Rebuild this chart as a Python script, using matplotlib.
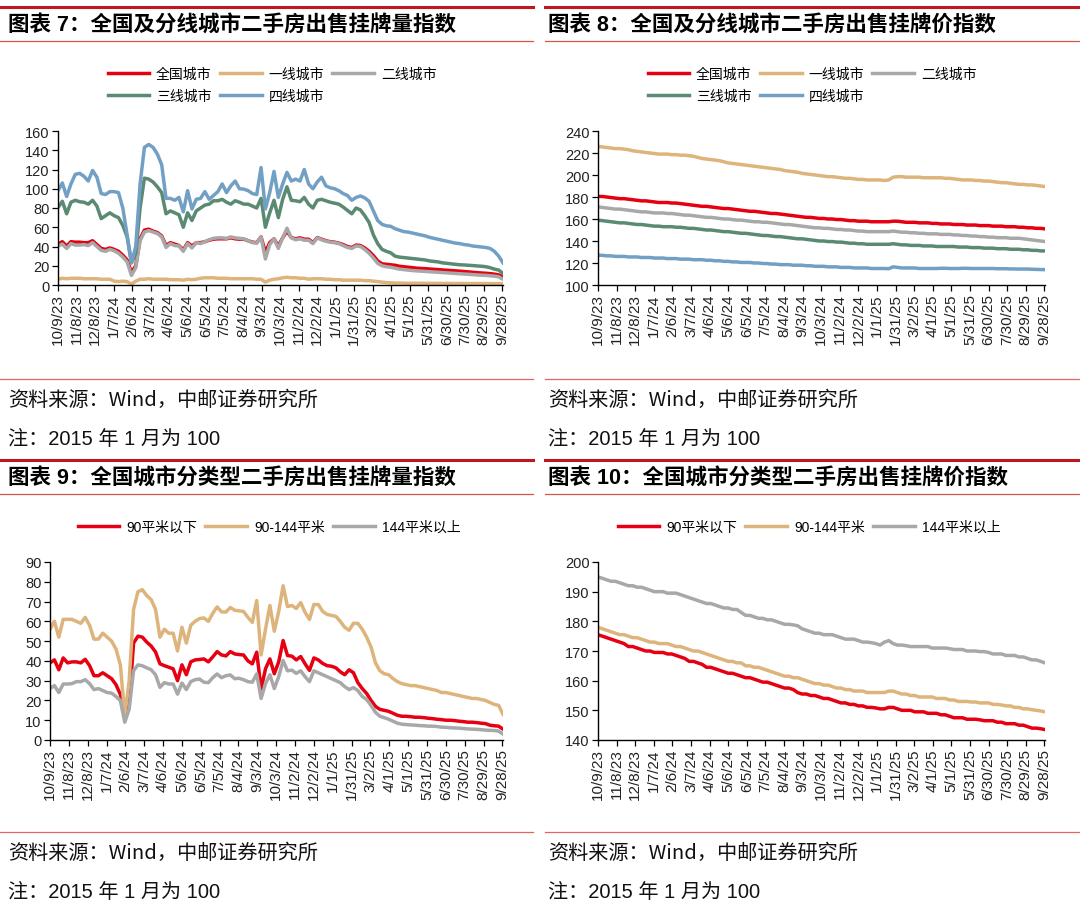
import matplotlib
matplotlib.use('Agg')
import matplotlib.pyplot as plt
import matplotlib.dates as mdates
from matplotlib.lines import Line2D
import pandas as pd

plt.rcParams['font.family'] = ['Liberation Sans', 'Noto Sans CJK SC', 'DejaVu Sans']

dates = pd.date_range('2023-10-09', periods=104, freq='7D')
tick_dates = pd.date_range('2023-10-09', '2025-09-28', freq='30D')
tick_labels = ['{}/{}/{}'.format(d.month, d.day, d.year % 100) for d in tick_dates]

# 图表7 挂牌量指数
vol_national = [42.5, 45, 40.5, 45, 44.5, 44.5, 44, 44, 46, 42,
                38, 37, 38.5, 37, 35, 31, 26, 13, 20, 48,
                57, 58, 56, 54.5, 51, 41, 44, 42.5, 41, 36.5,
                44, 40.6, 44, 44, 45, 46.5, 47.6, 48, 48, 48,
                49, 48, 47.6, 47.6, 46, 44.5, 44, 50, 34, 44,
                48, 40.6, 49, 56, 49.3, 48, 49, 47.6, 47.6, 44,
                49.3, 47.6, 46, 45, 44.5, 43.5, 42, 40, 39, 41.5,
                41, 38.5, 35, 30.5, 25, 22, 21.5, 21, 20.5, 19.5,
                19, 18.5, 18, 17.5, 17.2, 17, 16.6, 16.3, 16, 15.6,
                15.3, 15, 14.7, 14.4, 14, 13.6, 13.2, 12.8, 12.5, 12.2,
                11.8, 11.3, 10.5, 8.5]
vol_tier1 = [6, 7, 6.5, 7, 7, 7, 6.5, 6.5, 6.5, 6.5,
             6, 6, 6, 4, 3.5, 4, 3.5, 1, 4, 6,
             6, 6.5, 6, 6, 6, 6, 5.5, 5.5, 5.5, 5,
             6, 5.5, 6, 7, 7.5, 7.5, 7.5, 7, 7, 7,
             6.5, 6.5, 6.5, 6.5, 6.5, 6.5, 6, 6, 3, 5,
             6, 6.5, 7.5, 8, 7.5, 7.5, 7, 7, 6, 6.5,
             6.5, 6.5, 6, 6, 5.5, 5.5, 5, 5, 5, 5,
             5, 4.5, 4.5, 4, 3.5, 3, 2.5, 2.3, 2, 2,
             1.9, 1.8, 1.8, 1.8, 1.8, 1.7, 1.7, 1.7, 1.7, 1.6,
             1.6, 1.6, 1.6, 1.6, 1.5, 1.5, 1.5, 1.5, 1.5, 1.5,
             1.5, 1.4, 1.4, 1.4]
vol_tier2 = [40.5, 42.5, 38, 43, 41.5, 41.5, 42, 41, 44, 40,
             36, 35, 37, 35.5, 33, 29, 24, 10, 18, 46,
             55, 56.5, 55, 53.5, 50, 39, 43, 41, 40.5, 35,
             43, 38.5, 44, 43, 45, 47, 48.5, 49, 49, 48.5,
             50, 49, 48.5, 48, 46, 44, 43.5, 50, 27, 42,
             48, 38, 49, 59, 49, 47, 48, 46.5, 46.5, 43,
             49, 47, 45.5, 44.5, 44, 43, 41, 39, 38, 40.5,
             40, 37, 33, 28, 22.5, 20, 19, 18.5, 17.5, 16.5,
             16, 15.5, 15, 14.7, 14.4, 14.1, 13.8, 13.5, 13.2, 12.9,
             12.6, 12.3, 12, 11.7, 11.4, 11.1, 10.8, 10.5, 10.2, 10,
             9.6, 9.2, 8.5, 6]
vol_tier3 = [80.5, 87, 74, 86, 88, 86.5, 86, 84, 88, 82,
             69, 72, 75, 72, 70, 62, 50, 23, 33, 80,
             111, 110, 107, 102, 96, 74, 77, 75, 73, 60,
             75, 67, 77, 80, 83, 84, 87.5, 87.5, 89, 86,
             84, 87.5, 86, 84, 84, 82, 80, 90, 60, 75,
             88, 70, 89, 102, 88, 87.5, 86.5, 91, 84, 80,
             88, 89, 87.5, 86, 85, 84, 81, 77.5, 74, 80,
             78, 72, 65, 52, 43, 37, 35, 33.5, 30, 29,
             28.5, 28, 27.5, 27, 26.5, 26, 25, 24.5, 24, 23,
             22.5, 22, 21.5, 21, 20.8, 20.5, 20.2, 19.8, 19.5, 19,
             18, 16.5, 15.5, 12]
vol_tier4 = [98, 106, 92, 105, 115, 116, 113, 108, 119, 112,
             95, 94, 97, 97, 96, 80, 52, 23, 40, 105,
             143, 146, 143, 136, 125, 90, 90, 88, 91, 76,
             98, 79, 89, 90, 97, 89, 93, 97, 105, 96,
             103, 108, 100, 99.6, 98, 95, 94, 122, 79, 96,
             118, 91, 105, 117, 108, 110, 108, 120, 105, 100,
             107, 112, 103, 101, 100, 98, 95, 93, 88, 91,
             92.5, 90.5, 87, 77, 67, 63, 61.5, 61, 58.5, 57,
             55.5, 55, 54, 53, 52, 51, 49.5, 48.5, 47.5, 46.5,
             45.5, 44.5, 43.5, 43, 42, 41.5, 40.5, 40, 39.5, 39,
             38, 35, 30, 23]

# 图表8 挂牌价指数
price_national = [180.5, 180.5, 180, 179.5, 179, 178.5, 178.5, 178, 177.5, 177,
                  176.5, 176.5, 176, 175.5, 175, 175, 175, 174.5, 174.5, 174,
                  173.5, 173, 172.5, 172, 171.5, 171.5, 171, 170.5, 170, 169.5,
                  169.5, 169, 168.5, 168, 167.5, 167, 167, 166.5, 166, 165.5,
                  165, 165, 164.5, 164, 163.5, 163, 162.5, 162, 161.5, 161.5,
                  161, 160.5, 160.5, 160, 160, 159.5, 159.5, 159, 158.5, 158.5,
                  158, 158, 158, 157.5, 157.5, 157.5, 157.5, 157.5, 158, 158,
                  157.5, 157, 157, 157, 156.5, 156.5, 156.5, 156, 156, 155.5,
                  155.5, 155.5, 155, 155, 155, 154.5, 154.5, 154.5, 154, 154,
                  154, 153.5, 153.5, 153.5, 153, 153, 153, 152.5, 152.5, 152,
                  152, 151.5, 151.5, 151]
price_tier1 = [226, 225.5, 225, 224.5, 224, 224, 223.5, 223, 222, 221.5,
               221, 220.5, 220, 219.5, 219, 219, 219, 218.5, 218.5, 218,
               218, 217.5, 217, 216, 215, 214.5, 214, 213.5, 213, 212,
               211, 210.5, 210, 209.5, 209, 208.5, 208, 207.5, 207, 206.5,
               206, 205.5, 205, 204, 203.5, 203, 202.5, 201.5, 201, 200.5,
               200, 199.5, 199, 198.5, 198.5, 198, 197.5, 197, 197, 196.5,
               196, 196, 195.5, 195.5, 195.5, 195.5, 195, 195.5, 198, 198.5,
               198.5, 198, 198, 198, 198, 197.5, 197.5, 197.5, 197.5, 197.5,
               197, 197, 196.5, 196, 195.5, 195.5, 195.5, 195, 195, 194.5,
               194.5, 194, 193.5, 193, 193, 192.5, 192, 191.5, 191.5, 191,
               191, 190.5, 190, 189.5]
price_tier2 = [171, 170.5, 170, 169.5, 169, 169, 168.5, 168, 167.5, 167,
               166.5, 166.5, 166, 165.5, 165.5, 165.5, 165, 165, 164.5, 164,
               163.5, 163.5, 163, 162.5, 162, 161.5, 161.5, 161, 160.5, 160,
               160, 159.5, 159, 159, 158.5, 158, 157.5, 157.5, 157, 157,
               156.5, 156, 155.5, 155, 155, 154.5, 154, 153.5, 153, 152.5,
               152, 152, 151.5, 151.5, 151, 150.5, 150.5, 150, 150, 149.5,
               149, 149, 148.5, 148.5, 148.5, 148.5, 148.5, 148.5, 149, 148.5,
               148, 148, 147.5, 147.5, 147, 147, 146.5, 146.5, 146.5, 146,
               146, 146, 145.5, 145.5, 145, 145, 144.5, 144.5, 144, 144,
               143.5, 143.5, 143, 143, 143, 142.5, 142.5, 142.5, 142, 141.5,
               141, 140.5, 140, 139.5]
price_tier3 = [159, 158.5, 158, 157.5, 157, 156.5, 156.5, 156, 155.5, 155,
               155, 154.5, 154, 153.5, 153.5, 153, 153, 153, 152.5, 152.5,
               152, 151.5, 151.5, 151, 150.5, 150, 150, 149.5, 149, 148.5,
               148.5, 148, 147.5, 147, 147, 146.5, 146, 145.5, 145, 145,
               144.5, 144, 144, 143.5, 143, 142.5, 142, 142, 141.5, 141,
               140.5, 140, 140, 139.5, 139.5, 139, 139, 138.5, 138, 138,
               137.5, 137.5, 137, 137, 137, 137, 137, 137, 137.5, 137,
               136.5, 136.5, 136, 136, 136, 135.5, 135.5, 135.5, 135, 135,
               135, 135, 135, 134.5, 134.5, 134.5, 134, 134, 134, 133.5,
               133.5, 133.5, 133, 133, 133, 132.5, 132.5, 132.5, 132, 132,
               131.5, 131.5, 131, 131]
price_tier4 = [127, 127, 126.5, 126.5, 126, 126, 126, 125.5, 125.5, 125.5,
               125, 125, 125, 124.5, 124.5, 124.5, 124, 124, 124, 123.5,
               123.5, 123.5, 123, 123, 123, 122.5, 122.5, 122, 122, 121.5,
               121.5, 121, 121, 120.5, 120.5, 120.5, 120, 120, 119.5, 119.5,
               119, 119, 118.5, 118.5, 118.5, 118, 118, 118, 117.5, 117.5,
               117, 117, 117, 116.5, 116.5, 116.5, 116, 116, 116, 115.5,
               115.5, 115.5, 115.5, 115, 115, 115, 115, 114.8, 116.5, 116,
               115.5, 115.5, 115.5, 115.5, 115, 115, 115, 115, 115, 115.2,
               115.2, 115, 115, 115, 115.2, 115.2, 115, 115, 115, 115,
               115, 115, 114.8, 114.8, 114.8, 114.6, 114.6, 114.5, 114.5, 114.5,
               114.3, 114.2, 114, 114]

# 图表9 分面积挂牌量指数
vol_small = [39, 40.5, 35.5, 41.5, 39, 39.5, 39.5, 39, 40.8, 37.6,
             32.5, 32.5, 34, 32.5, 31, 28, 23, 13, 18, 49,
             52.5, 52, 49.5, 47.5, 44.5, 38.5, 37.6, 36.8, 36, 30,
             38, 33, 39.5, 40.5, 40.7, 41, 39.5, 42, 44.7, 43,
             42.5, 44.7, 43.5, 43.2, 43, 40, 38.5, 44.4, 25.8, 36,
             41, 33.5, 39.5, 50.3, 42.7, 42.4, 40.5, 42.2, 38.5, 35.2,
             41.5, 40.5, 38.7, 37.6, 37.3, 36.5, 34.5, 33, 35.5, 34,
             29, 26, 23.5, 20, 17, 15.5, 15, 14.5, 13.5, 12.5,
             12, 12, 11.8, 11.5, 11.5, 11.3, 11, 10.8, 10.5, 10.3,
             10, 10, 9.8, 9.5, 9.3, 9, 9, 8.8, 8.5, 8.3,
             7.5, 7.2, 7, 5.5]
vol_mid = [56, 60, 52, 61, 61, 61, 60, 59, 62, 58,
           51, 51, 54, 52, 50, 46, 38, 12, 30, 66,
           75, 76, 73, 71, 66, 52, 56, 54, 54, 45,
           57, 49, 58, 60, 61.4, 61.7, 60, 64, 67.3, 64.8,
           64.7, 67, 65.6, 65.3, 65, 62, 59.5, 70.5, 43, 56,
           68, 55, 65, 78, 67.5, 68, 66.5, 69.5, 64.5, 61,
           68.5, 68.5, 65, 63.5, 63, 62.5, 60, 57, 55.5, 59,
           59, 56, 52, 47, 39, 35, 33.5, 33, 31, 29.5,
           28.5, 28, 27.5, 27.5, 27, 26.5, 26, 25.5, 25, 24,
           24, 23.5, 23, 22.5, 22, 21.5, 21, 21, 20.5, 20,
           19, 18, 17.5, 13]
vol_large = [26, 27.5, 24, 28.3, 28.3, 28.5, 29.5, 29.5, 30.5, 28.5,
             25.5, 26, 25, 24, 23.7, 22, 20, 9, 15.6, 35,
             38, 37.5, 36.5, 35.5, 33, 26.6, 29, 28.3, 28.3, 23.2,
             28.8, 25.5, 29.5, 30.5, 30.8, 29.2, 29, 31.5, 33.4, 31.5,
             32.5, 32.9, 31, 31.2, 30.5, 29.5, 29.2, 33.4, 21, 28.5,
             33, 26, 32, 40.2, 35, 35.3, 33.7, 35, 32, 29.5,
             35, 34, 33, 32, 31, 30, 29, 27, 25.5, 26.5,
             25, 22, 20.5, 17.5, 14, 12, 11.3, 10.5, 9.5, 8.5,
             8, 7.8, 7.6, 7.5, 7.3, 7.2, 7, 7, 6.8, 6.5,
             6.4, 6.2, 6.1, 6, 5.8, 5.6, 5.5, 5.4, 5.2, 5,
             4.9, 4.8, 4.5, 3]

# 图表10 分面积挂牌价指数
price_small = [175.5, 175, 174.5, 174, 173.5, 173, 172.5, 171.5, 171.5, 171,
               170.5, 170, 170, 169.5, 169.5, 169.5, 169, 169, 168.5, 168,
               167.5, 166.5, 166.5, 166, 165.5, 164.5, 164.5, 164, 163.5, 163,
               162.5, 162.5, 162, 161.5, 161, 161, 160.5, 160, 159.5, 159.5,
               159, 158.5, 158, 157.5, 157.5, 157, 156, 155.5, 155.5, 155,
               155, 154.5, 154, 154, 153.5, 153, 152.5, 152.5, 152, 152,
               151.5, 151.5, 151, 151, 150.8, 150.5, 150.5, 151, 151, 150.5,
               150, 150, 150, 149.5, 149.5, 149.5, 149, 149, 149, 148.5,
               148.5, 148, 147.5, 147.5, 147.5, 147, 147, 147, 146.8, 146.5,
               146.5, 146.5, 146, 146, 145.5, 145.5, 145.5, 145, 145, 144.5,
               144, 144, 143.8, 143.5]
price_mid = [178, 177.5, 177, 176.5, 176, 175.5, 175.5, 175, 174.5, 174.5,
             174, 173.5, 173, 173, 172.5, 172.5, 172.5, 172, 171.5, 171.5,
             171, 170.5, 170, 170, 169.5, 169, 168.5, 168, 167.5, 167,
             166.5, 166.5, 166, 166, 165, 165, 164.5, 164.5, 164, 163.5,
             163, 162.5, 162, 161.5, 161.5, 161, 161, 160.5, 160, 159.5,
             159, 159, 158.5, 158.5, 158, 157.5, 157.5, 157, 157, 156.5,
             156.5, 156.5, 156, 156, 156, 156, 156, 156.5, 156.5, 156,
             155.5, 155.5, 155, 155, 154.5, 154.5, 154.5, 154.5, 154, 154,
             154, 153.5, 153.5, 153, 153, 153, 152.8, 152.8, 152.5, 152.5,
             152.5, 152, 152, 151.8, 151.5, 151.5, 151, 151, 150.5, 150.5,
             150.2, 150, 149.8, 149.5]
price_large = [195, 194.5, 194, 193.5, 193.5, 193, 192.5, 192, 192, 191.5,
               191.5, 191, 190.5, 190, 190, 190, 189.5, 189.5, 189.5, 189,
               188.5, 188, 187.5, 187, 186.5, 186, 186, 185.5, 185, 184.5,
               184.5, 184, 184, 183, 182, 182, 181.5, 181, 181, 180.5,
               180.5, 180, 179.5, 179, 179, 178.8, 178.5, 177.5, 177, 176.5,
               176, 176, 175.5, 175.5, 175.5, 175, 174.5, 174, 174, 174,
               173.5, 173, 173, 172.8, 172.5, 172, 173, 173.5, 172.5, 172,
               172, 171.8, 171.5, 171.5, 171.5, 171.5, 171.5, 171, 171, 171,
               171, 170.8, 170.5, 170.5, 170.5, 170, 170, 170, 169.8, 169.8,
               169.5, 169, 169, 169, 168.5, 168.5, 168.5, 168, 168, 167.5,
               167, 167, 166.5, 166]

city_labels = ['全国城市', '一线城市', '二线城市', '三线城市', '四线城市']
area_labels = ['90平米以下', '90-144平米', '144平米以上']

RED = '#E60012'
TAN = '#DDB47B'
GRAY = '#A8A8A8'
GREEN = '#5B8A73'
BLUE = '#72A0C5'
city_colors = [RED, TAN, GRAY, GREEN, BLUE]
area_colors = [RED, TAN, GRAY]

W, H = 1080, 912
fig = plt.figure(figsize=(W / 100, H / 100), dpi=100)
x = mdates.date2num(dates.to_pydatetime())
xt = mdates.date2num(tick_dates.to_pydatetime())


def px_axes(left, top, right, bottom):
    return fig.add_axes([left / W, 1 - bottom / H, (right - left) / W, (bottom - top) / H])


def hline(x0, x1, y, color, lw):
    fig.add_artist(Line2D([x0 / W, x1 / W], [1 - y / H, 1 - y / H],
                          transform=fig.transFigure, color=color, lw=lw))


def style(ax, ylim, step):
    ax.set_xlim(x[0], x[-1])
    ax.set_ylim(*ylim)
    ax.set_yticks(range(ylim[0], ylim[1] + 1, step))
    ax.set_xticks(xt)
    ax.set_xticklabels(tick_labels, rotation=90)
    for s in ['top', 'right']:
        ax.spines[s].set_visible(False)
    for s in ['left', 'bottom']:
        ax.spines[s].set_linewidth(1.0)
    ax.tick_params(axis='both', direction='out', length=4, width=0.9,
                   labelsize=10.5, colors='black', labelcolor='#222222', pad=2)
    ax.tick_params(axis='x', labelsize=11)


def panel(ax, series, colors, labels, order, ylim, step, cx, cy, ncol):
    handles = []
    for s, c in zip(series, colors):
        h, = ax.plot(x, s, color=c, lw=2.5, solid_joinstyle='round')
        handles.append(h)
    style(ax, ylim, step)
    ax.legend([handles[i] for i in order], [labels[i] for i in order],
              loc='center', bbox_to_anchor=(cx / W, 1 - cy / H),
              bbox_transform=fig.transFigure, ncol=ncol, frameon=False,
              fontsize=10, handlelength=3.0, handletextpad=0.5,
              columnspacing=0.6, labelspacing=0.55)


ax7 = px_axes(58, 132, 503, 286)
panel(ax7, [vol_national, vol_tier1, vol_tier2, vol_tier3, vol_tier4],
      city_colors, city_labels, [0, 3, 1, 4, 2], (0, 160), 20, 272, 86, 3)

ax8 = px_axes(598, 132, 1045, 286)
panel(ax8, [price_national, price_tier1, price_tier2, price_tier3, price_tier4],
      city_colors, city_labels, [0, 3, 1, 4, 2], (100, 240), 20, 812, 86, 3)

ax9 = px_axes(50, 563, 503, 741)
panel(ax9, [vol_small, vol_mid, vol_large], area_colors, area_labels,
      [0, 1, 2], (0, 90), 10, 269, 528, 3)

ax10 = px_axes(598, 563, 1045, 741)
panel(ax10, [price_small, price_mid, price_large], area_colors, area_labels,
      [0, 1, 2], (140, 200), 10, 809, 528, 3)

# frames, titles and notes
titles = ['图表 7：全国及分线城市二手房出售挂牌量指数',
          '图表 8：全国及分线城市二手房出售挂牌价指数',
          '图表 9：全国城市分类型二手房出售挂牌量指数',
          '图表 10：全国城市分类型二手房出售挂牌价指数']
source = '资料来源：Wind，中邮证券研究所'
note = '注：2015 年 1 月为 100'

for row, dy in enumerate([0, 453]):
    for col, (x0, x1) in enumerate([(0, 533), (545, 1080)]):
        hline(x0, x1, 8 + dy, '#C0171F', 2.2)
        hline(x0, x1, 42 + dy, '#D9534F', 0.9)
        hline(x0, x1, 380 + dy, '#E06666', 0.9)
        tx = 8 if col == 0 else 548
        fig.text(tx / W, 1 - (26 + dy) / H, titles[row * 2 + col], fontsize=15.5,
                 fontweight='bold', va='center', ha='left', color='black')
        fig.text(tx / W, 1 - (400 + dy) / H, source, fontsize=14.5,
                 family=['Noto Sans CJK SC', 'DejaVu Sans'],
                 va='center', ha='left', color='#111111')
        fig.text(tx / W, 1 - (440 + dy) / H, note, fontsize=14.5,
                 va='center', ha='left', color='#111111')

fig.savefig('out.png', dpi=100)
